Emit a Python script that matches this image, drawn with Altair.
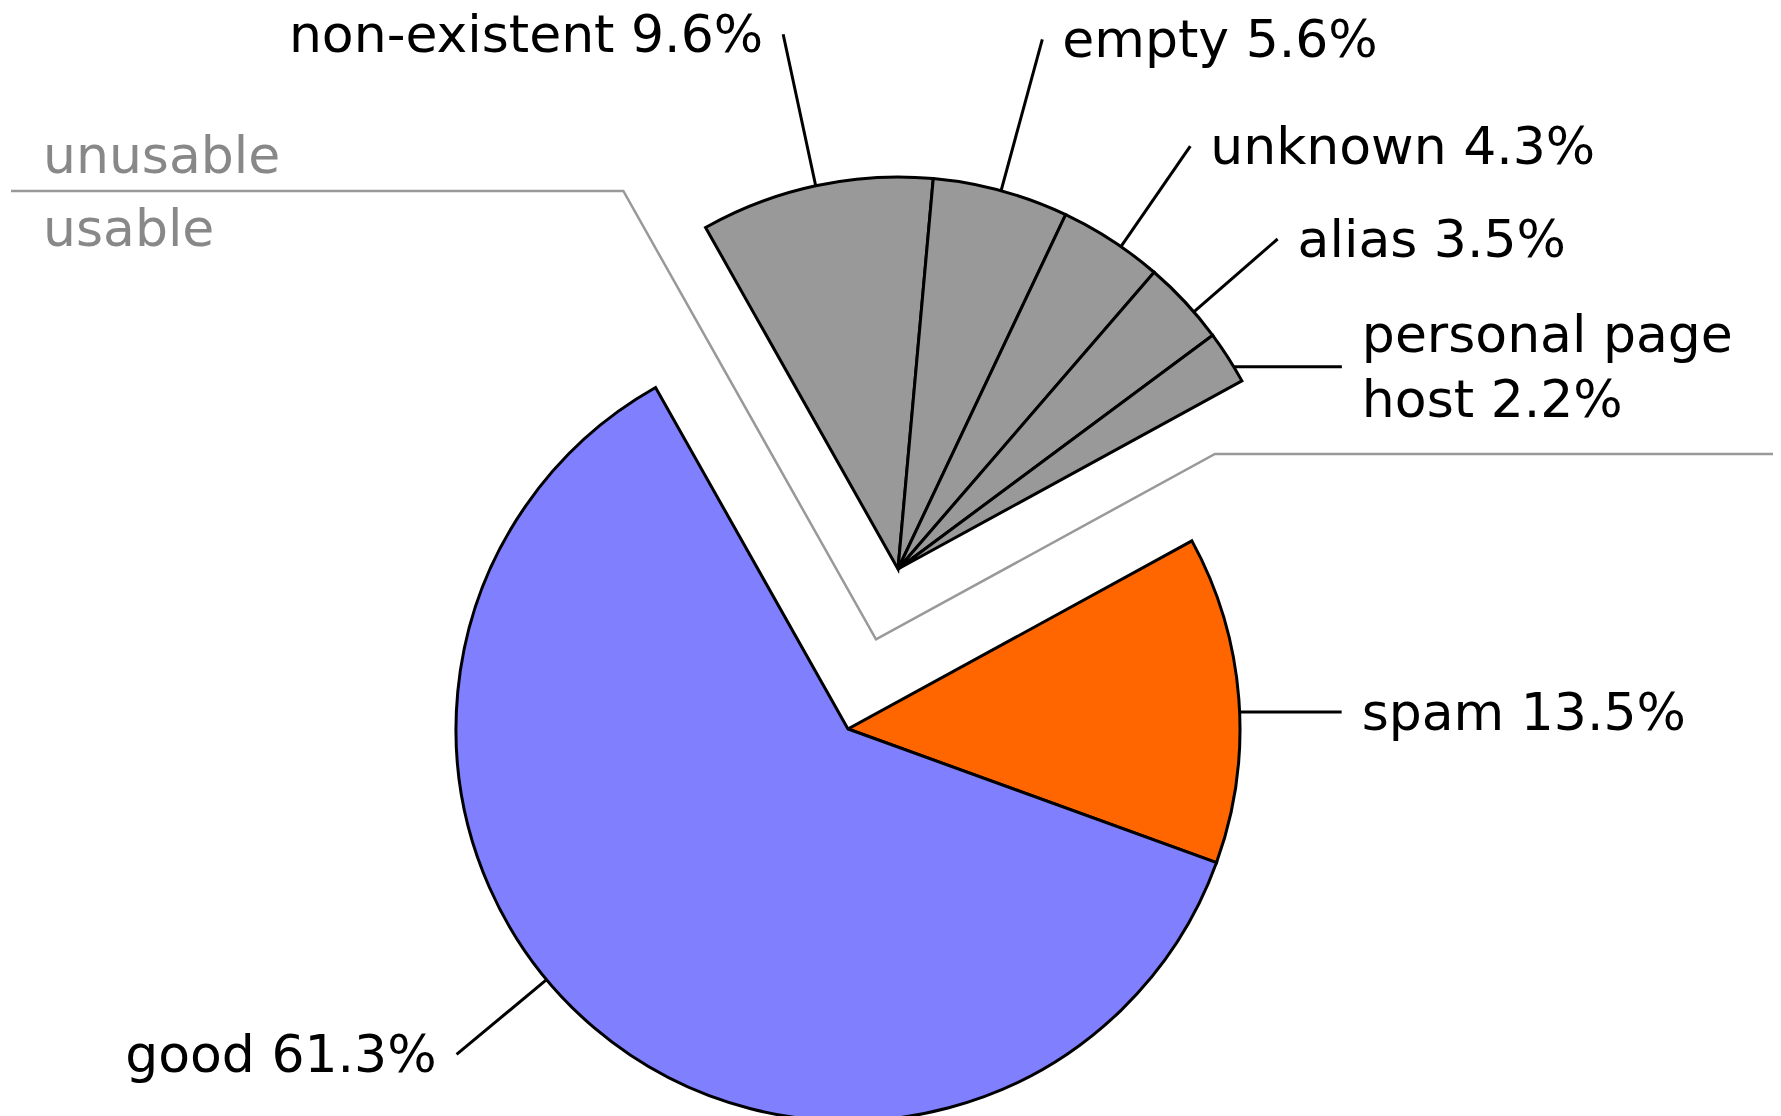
import math
import altair as alt
import pandas as pd

# ---------------- data ----------------
categories = ["non-existent", "empty", "unknown", "alias", "personal page host", "spam", "good"]
shares = [9.6, 5.6, 4.3, 3.5, 2.2, 13.5, 61.3]
groups = ["unusable", "unusable", "unusable", "unusable", "unusable", "usable", "usable"]
group_names = ["unusable", "usable"]

# ---------------- style / layout ----------------
slice_colors = ["#999999", "#999999", "#999999", "#999999", "#999999", "#FF6600", "#8080FF"]
W, H = 1765, 1108
CX, CY = 840, 721            # centre of the main pie (view pixels)
R = 392                      # pie radius
EXPLODE = (50, -160)         # shift of the exploded "unusable" group
SEP_FRAC = 0.56              # where the separator corner sits between the two centres
SEP_LEFT_Y, SEP_RIGHT_Y = 183, 446
START_DEG = -29.4
FONT = "DejaVu Sans"
FS = 52
LINE_H = 65
GAP = 20
TEXT_DY = 2
STROKE = 3
GREY_TXT = "#888888"
GREY_LINE = "#999999"

# leader style per label: (kind, length/outer radius, angle nudge in degrees)
leader_layout = {
    "non-existent": ("radial", 547, 0.0),
    "empty": ("radial", 549, 0.0),
    "unknown": ("radial", 514, 1.6),
    "alias": ("radial", 503, 1.9),
    "personal page host": ("horizontal", 108, 1.6),
    "spam": ("horizontal", 102, 1.9),
    "good": ("radial", 509, 10.0),
}
wrap = {"personal page host": "personal page\nhost"}

TOTAL = sum(shares)
a0 = math.radians(START_DEG)
theta_scale = alt.Scale(domain=[0, TOTAL], range=[a0, a0 + 2 * math.pi])

df = pd.DataFrame({
    "category": categories,
    "share": shares,
    "group": groups,
    "order": list(range(len(categories))),
})


def centre(group):
    if group == "unusable":
        return CX + EXPLODE[0], CY + EXPLODE[1]
    return CX, CY


def arc_layer(group):
    cx, cy = centre(group)
    return (
        alt.Chart(df)
        .transform_stack(stack="share", groupby=[], as_=["t0", "t1"],
                         sort=[alt.SortField("order", order="ascending")])
        .transform_filter(alt.datum.group == group)
        .mark_arc(radius=R, stroke="black", strokeWidth=STROKE, strokeJoin="miter")
        .encode(
            theta=alt.Theta("t0:Q", scale=theta_scale),
            theta2="t1",
            fill=alt.Fill("category:N", scale=alt.Scale(domain=categories, range=slice_colors), legend=None),
            x=alt.value(cx),
            y=alt.value(cy),
        )
    )


# ---------------- leader lines and labels (derived from slice angles) ----------------
lead_rows, text_rows = [], []
cum = 0.0
for cat, val, grp in zip(categories, shares, groups):
    mid = START_DEG + (cum + val / 2) / TOTAL * 360.0
    cum += val
    kind, size, nudge = leader_layout[cat]
    th = math.radians(mid + nudge)
    cx, cy = centre(grp)
    sx, sy = cx + R * math.sin(th), cy - R * math.cos(th)
    side = 1 if math.sin(th) > 0 else -1
    if kind == "radial":
        ex, ey = cx + size * math.sin(th), cy - size * math.cos(th)
    else:
        ex, ey = sx + side * size, sy
    lead_rows.append({"x": sx, "y": sy, "x2": ex, "y2": ey})
    txt = f"{wrap.get(cat, cat)} {val:.1f}%"
    lines = txt.split("\n")
    n = len(lines)
    for i, ln in enumerate(lines):
        text_rows.append({
            "x": ex + side * GAP,
            "y": ey + TEXT_DY + (i - (n - 1) / 2) * LINE_H,
            "text": ln,
            "align": "left" if side > 0 else "right",
        })

leads = pd.DataFrame(lead_rows)
texts = pd.DataFrame(text_rows)

# separator between the usable and the unusable part
ccx = CX + SEP_FRAC * EXPLODE[0]
ccy = CY + SEP_FRAC * EXPLODE[1]
t_start = math.radians(START_DEG)
unusable_total = sum(v for v, g in zip(shares, groups) if g == "unusable")
t_end = math.radians(START_DEG + unusable_total / TOTAL * 360.0)
tl = (ccy - SEP_LEFT_Y) / math.cos(t_start)
tr = (ccy - SEP_RIGHT_Y) / math.cos(t_end)
sep = pd.DataFrame({
    "x": [3, ccx + tl * math.sin(t_start), ccx, ccx + tr * math.sin(t_end), W],
    "y": [SEP_LEFT_Y, SEP_LEFT_Y, ccy, SEP_RIGHT_Y, SEP_RIGHT_Y],
    "i": [0, 1, 2, 3, 4],
})

grp_txt = pd.DataFrame({
    "x": [35, 35],
    "y": [SEP_LEFT_Y - 18, SEP_LEFT_Y + 55],
    "text": group_names,
})

xs = alt.Scale(domain=[0, W], nice=False, zero=False)
ys = alt.Scale(domain=[0, H], nice=False, zero=False, reverse=True)

sep_layer = alt.Chart(sep).mark_line(stroke=GREY_LINE, strokeWidth=2.5).encode(
    x=alt.X("x:Q", scale=xs, axis=None),
    y=alt.Y("y:Q", scale=ys, axis=None),
    order="i:Q",
)

lead_layer = alt.Chart(leads).mark_rule(stroke="black", strokeWidth=STROKE).encode(
    x=alt.X("x:Q", scale=xs, axis=None),
    y=alt.Y("y:Q", scale=ys, axis=None),
    x2="x2",
    y2="y2",
)


def text_layer(align):
    return (
        alt.Chart(texts)
        .transform_filter(alt.datum.align == align)
        .mark_text(align=align, baseline="middle", font=FONT, fontSize=FS, color="black")
        .encode(
            x=alt.X("x:Q", scale=xs, axis=None),
            y=alt.Y("y:Q", scale=ys, axis=None),
            text="text:N",
        )
    )


grp_layer = alt.Chart(grp_txt).mark_text(
    align="left", baseline="alphabetic", font=FONT, fontSize=FS, color=GREY_TXT
).encode(
    x=alt.X("x:Q", scale=xs, axis=None),
    y=alt.Y("y:Q", scale=ys, axis=None),
    text="text:N",
)

chart = (
    alt.layer(
        sep_layer,
        arc_layer("usable"),
        arc_layer("unusable"),
        lead_layer,
        text_layer("left"),
        text_layer("right"),
        grp_layer,
    )
    .properties(width=W, height=H, autosize=alt.AutoSizeParams(type="none"), padding=0,
                background="white")
    .configure_view(stroke=None)
)

chart.save("out.html", embed_options={"renderer": "svg", "actions": False})
